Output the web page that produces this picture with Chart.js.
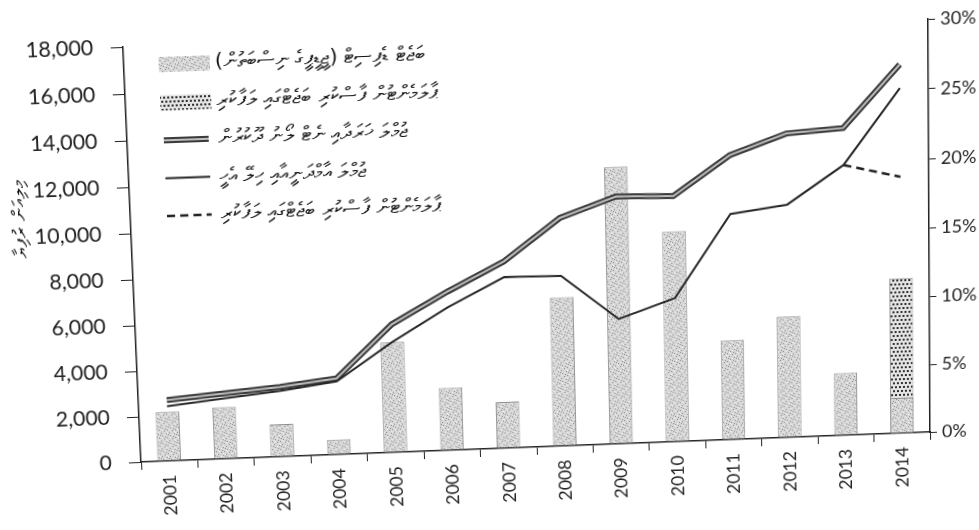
<!DOCTYPE html>
<html>
<head>
<meta charset="utf-8">
<script src="https://cdn.jsdelivr.net/npm/chart.js@4/dist/chart.umd.min.js"></script>
<style>
  html, body { margin: 0; padding: 0; background: #fff; overflow: hidden; }
  #wrap { width: 979px; height: 530px; transform-origin: 0 0; }
</style>
</head>
<body>
<div id="wrap"><canvas id="fiscalChart" width="979" height="530"></canvas></div>
<script>
const years = ["2001", "2002", "2003", "2004", "2005", "2006", "2007", "2008", "2009", "2010", "2011", "2012", "2013", "2014"];

// bars, right axis (%)
const deficitPct = [3.6, 3.8, 2.4, 1.1, 8.1, 4.6, 3.4, 10.9, 20.2, 15.4, 7.3, 8.9, 4.6, 2.6];
const deficitBudgetPct = [null, null, null, null, null, null, null, null, null, null, null, null, null, 11.4];

// lines, left axis (million)
const expenditure = [2680, 2880, 3080, 3360, 5640, 6980, 8200, 10000, 10850, 10770, 12450, 13300, 13450, 16100];
const revenue = [2410, 2660, 2900, 3230, 4860, 6300, 7520, 7480, 5500, 6330, 9900, 10220, 11850, 15080];
const revenueBudget = [null, null, null, null, null, null, null, null, null, null, null, null, 11850, 11250];

const leftTicks = { min: 0, max: 18000, step: 2000 };
const rightTicks = { min: 0, max: 30, step: 5 };

const labelDeficit = "ބަޖެޓް ޑެފިސިޓް (ޖީޑީޕީގެ ނިސްބަތުން)";
const labelBudget = "ޕާލަމެންޓުން ފާސްކުރި ބަޖެޓްގައި ލަފާކުރި";
const labelExpenditure = "ޖުމްލަ ޚަރަދާއި ނެޓް ލޯނު ދޫކުރުން";
const labelRevenue = "ޖުމްލަ އާމްދަނީއާއި ހިލޭ އެހީ";
const yTitle = "މިލިއަން ރުފިޔާ";

const FONT = "Lato, 'Open Sans', sans-serif";
const THAANA = "'DejaVu Sans', 'Noto Sans', sans-serif";

// the scanned page is a bit skewed: map the plot corners onto where they sit in the scan
const plotCorners = [[133, 34], [133, 448], [923, 34], [923, 448]];
const scanCorners = [[123, 47], [141, 462], [928, 19], [930, 432]];

function homography(src, dst) {
    const A = [];
    for (let i = 0; i < 4; i++) {
        const [x, y] = src[i], [u, v] = dst[i];
        A.push([x, y, 1, 0, 0, 0, -u * x, -u * y, u]);
        A.push([0, 0, 0, x, y, 1, -v * x, -v * y, v]);
    }
    for (let c = 0; c < 8; c++) {
        let p = c;
        for (let r = c + 1; r < 8; r++) if (Math.abs(A[r][c]) > Math.abs(A[p][c])) p = r;
        [A[c], A[p]] = [A[p], A[c]];
        for (let r = 0; r < 8; r++) {
            if (r === c) continue;
            const f = A[r][c] / A[c][c];
            for (let k = c; k < 9; k++) A[r][k] -= f * A[c][k];
        }
    }
    const h = A.map((row, i) => row[8] / row[i]);
    h.push(1);
    return h;
}
const H = homography(plotCorners, scanCorners);
document.getElementById("wrap").style.transform =
    `matrix3d(${H[0]},${H[3]},0,${H[6]},${H[1]},${H[4]},0,${H[7]},0,0,1,0,${H[2]},${H[5]},0,${H[8]})`;

function makePattern(kind) {
    const c = document.createElement("canvas");
    c.width = 8; c.height = 8;
    const g = c.getContext("2d");
    if (kind === "stipple") {
        g.fillStyle = "#d6d6d6"; g.fillRect(0, 0, 8, 8);
        g.fillStyle = "#8f8f8f";
        [[0, 0], [5, 1], [2, 3], [7, 4], [3, 6], [6, 7], [1, 5]].forEach(p => g.fillRect(p[0], p[1], 1, 1));
        g.fillStyle = "#f2f2f2";
        [[3, 0], [7, 2], [0, 3], [5, 5], [2, 7]].forEach(p => g.fillRect(p[0], p[1], 1, 1));
    } else {
        g.fillStyle = "#e4e4e4"; g.fillRect(0, 0, 8, 8);
        g.fillStyle = "#2e2e2e";
        g.fillRect(0, 0, 2, 2); g.fillRect(4, 0, 2, 2); g.fillRect(2, 4, 2, 2); g.fillRect(6, 4, 2, 2);
    }
    return g.createPattern(c, "repeat");
}

// legend drawn inside the plot, swatch on the left, thaana text after it
const sideLegend = {
    id: "sideLegend",
    afterDraw(chart) {
        const ctx = chart.ctx;
        const x0 = 167, y0 = 52, rowGap = 37.5;
        const items = chart.data.datasets.filter(d => d.legendRow !== undefined)
            .sort((a, b) => a.legendRow - b.legendRow);
        ctx.save();
        items.forEach((d, i) => {
            const y = y0 + i * rowGap;
            if (d.type === "bar") {
                ctx.fillStyle = d.backgroundColor;
                ctx.fillRect(x0, y - 7, 50, 15);
            } else if (d.swatch === "double") {
                ctx.beginPath(); ctx.moveTo(x0 + 2, y); ctx.lineTo(x0 + 46, y);
                ctx.strokeStyle = "#3a3a3a"; ctx.lineWidth = 6; ctx.stroke();
                ctx.strokeStyle = "#bdbdbd"; ctx.lineWidth = 2; ctx.stroke();
            } else {
                ctx.beginPath(); ctx.moveTo(x0 + 2, y); ctx.lineTo(x0 + 46, y);
                ctx.setLineDash(d.borderDash || []);
                ctx.strokeStyle = d.borderColor; ctx.lineWidth = d.borderWidth; ctx.stroke();
                ctx.setLineDash([]);
            }
            ctx.fillStyle = "#111";
            ctx.font = "20px " + THAANA;
            ctx.direction = "rtl";
            ctx.textAlign = "left";
            ctx.textBaseline = "middle";
            ctx.fillText(d.label, x0 + 55, y);
        });
        // left axis title
        ctx.translate(25, 200);
        ctx.rotate(-Math.PI / 2);
        ctx.font = "19px " + THAANA;
        ctx.textAlign = "center";
        ctx.fillText(yTitle, 0, 0);
        ctx.restore();
    }
};

const ctx = document.getElementById("fiscalChart").getContext("2d");

new Chart(ctx, {
    data: {
        labels: years,
        datasets: [
            {
                type: "bar", label: labelDeficit, data: deficitPct, yAxisID: "yR", legendRow: 0,
                backgroundColor: makePattern("stipple"), borderColor: "#8e8e8e", borderWidth: 1,
                order: 9, grouped: false, categoryPercentage: 0.8, barPercentage: 0.52
            },
            {
                type: "bar", label: labelBudget, data: deficitBudgetPct, yAxisID: "yR", legendRow: 1,
                backgroundColor: makePattern("dots"), borderColor: "#8e8e8e", borderWidth: 1,
                order: 10, grouped: false, categoryPercentage: 0.8, barPercentage: 0.52
            },
            {
                type: "line", label: labelExpenditure, data: expenditure, yAxisID: "yL", legendRow: 2, swatch: "double",
                borderColor: "#3a3a3a", borderWidth: 6, pointRadius: 0, tension: 0, order: 4
            },
            {
                type: "line", label: "", data: expenditure, yAxisID: "yL",
                borderColor: "#bdbdbd", borderWidth: 2, pointRadius: 0, tension: 0, order: 3
            },
            {
                type: "line", label: labelRevenue, data: revenue, yAxisID: "yL", legendRow: 3,
                borderColor: "#262626", borderWidth: 2, pointRadius: 0, tension: 0, order: 2
            },
            {
                type: "line", label: labelBudget, data: revenueBudget, yAxisID: "yL", legendRow: 4,
                borderColor: "#222", borderWidth: 2.5, borderDash: [8, 5], pointRadius: 0, tension: 0, order: 1
            }
        ]
    },
    options: {
        responsive: false,
        animation: false,
        devicePixelRatio: 1,
        layout: { padding: { top: 34, left: 0, right: 0, bottom: 0 } },
        scales: {
            x: {
                offset: true,
                grid: { display: true, offset: true, drawOnChartArea: false, drawTicks: true, tickLength: 8, color: "#222" },
                border: { display: true, color: "#222", width: 1.5 },
                ticks: { color: "#222", font: { family: FONT, size: 18 }, minRotation: 90, maxRotation: 90, padding: 6 },
                afterFit: s => { s.height = 82; }
            },
            yL: {
                position: "left",
                min: leftTicks.min, max: leftTicks.max,
                grid: { drawOnChartArea: false, drawTicks: true, tickLength: 12, color: "#222" },
                border: { display: true, color: "#222", width: 1.5 },
                ticks: { stepSize: leftTicks.step, color: "#222", font: { family: FONT, size: 21 }, padding: 17 },
                afterFit: s => { s.width = 133; }
            },
            yR: {
                position: "right",
                min: rightTicks.min, max: rightTicks.max,
                grid: { drawOnChartArea: false, drawTicks: true, tickLength: 7, color: "#222" },
                border: { display: true, color: "#222", width: 1.5 },
                ticks: { stepSize: rightTicks.step, color: "#222", font: { family: FONT, size: 18 }, padding: 5,
                         callback: v => v + "%" },
                afterFit: s => { s.width = 56; }
            }
        },
        plugins: {
            legend: { display: false },
            tooltip: { enabled: false }
        }
    },
    plugins: [sideLegend]
});
</script>
</body>
</html>
